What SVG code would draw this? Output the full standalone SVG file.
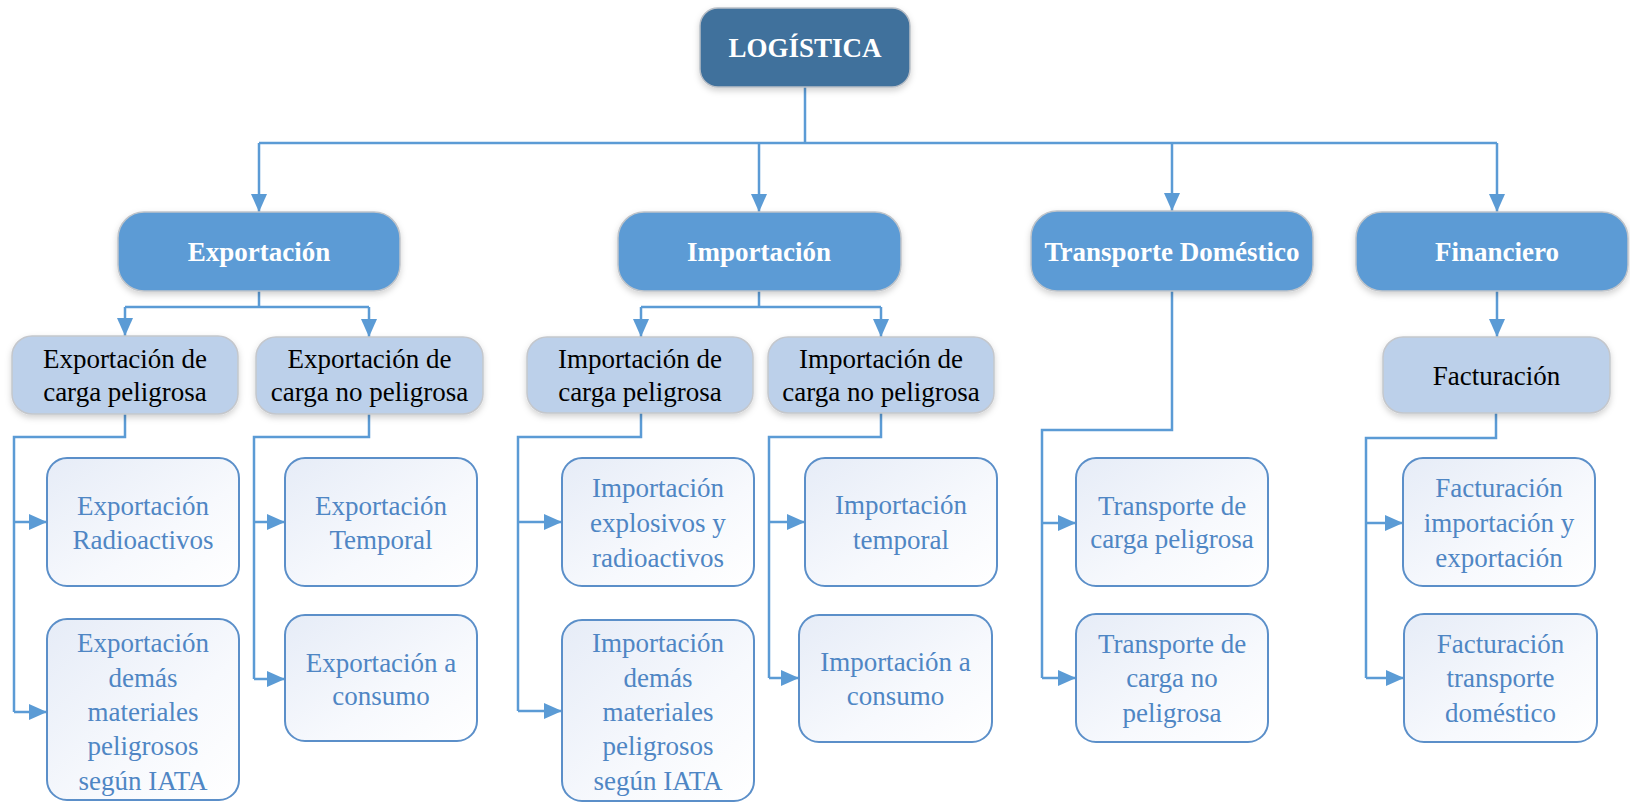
<svg xmlns="http://www.w3.org/2000/svg" width="1630" height="803" viewBox="0 0 1630 803">
<defs>
<linearGradient id="g3" x1="0" y1="0" x2="1" y2="1">
<stop offset="0" stop-color="#E6ECF7"/>
<stop offset="0.6" stop-color="#F7F9FD"/>
<stop offset="1" stop-color="#FFFFFF"/>
</linearGradient>
<filter id="sh" x="-10%" y="-10%" width="120%" height="130%">
<feDropShadow dx="0" dy="3" stdDeviation="3" flood-color="#000" flood-opacity="0.18"/>
</filter>
<marker id="ah" markerUnits="userSpaceOnUse" markerWidth="18" markerHeight="16" viewBox="0 0 18 16" refX="18" refY="8" orient="auto">
<path d="M0,0 L18,8 L0,16 Z" fill="#5B9BD5"/>
</marker>
</defs>
<style>
.t{font-family:"Liberation Serif","Times New Roman",serif;text-anchor:middle}
.l0{fill:#41719C;stroke:#B8BEC6;stroke-width:1.5;filter:url(#sh)}
.l1{fill:#5B9BD5;stroke:#BFC4CA;stroke-width:1.5;filter:url(#sh)}
.l2{fill:#BCD0EA;stroke:#C4C7CC;stroke-width:1.5;filter:url(#sh)}
.l3{fill:url(#g3);stroke:#5B8FC9;stroke-width:2}
.tb{font-size:27px;font-weight:bold;fill:#FFFFFF}
.t2{font-size:27px;fill:#000000}
.t3{font-size:27px;fill:#4F86C4}
.c{fill:none;stroke:#5B9BD5;stroke-width:2.5}
.a{marker-end:url(#ah)}
</style>
<g id="connectors">
<path class="c" d="M805,87 V143 M259,143 H1497"/>
<path class="c a" d="M259,143 V212"/>
<path class="c a" d="M759,143 V212"/>
<path class="c a" d="M1172,143 V211"/>
<path class="c a" d="M1497,143 V212"/>
<path class="c" d="M259,291 V307 M125,307 H369"/>
<path class="c a" d="M125,307 V336"/>
<path class="c a" d="M369,307 V337"/>
<path class="c" d="M759,291 V307 M641,307 H881"/>
<path class="c a" d="M641,307 V337"/>
<path class="c a" d="M881,307 V337"/>
<path class="c a" d="M1497,291 V337"/>
<path class="c" d="M125,414 V437 H14 V712"/>
<path class="c a" d="M14,522 H47"/>
<path class="c a" d="M14,712 H47"/>
<path class="c" d="M369,414 V437 H254 V679"/>
<path class="c a" d="M254,522 H285"/>
<path class="c a" d="M254,679 H285"/>
<path class="c" d="M641,413 V437 H518 V711"/>
<path class="c a" d="M518,522 H562"/>
<path class="c a" d="M518,711 H562"/>
<path class="c" d="M881,413 V437 H769 V678"/>
<path class="c a" d="M769,522 H805"/>
<path class="c a" d="M769,678 H799"/>
<path class="c" d="M1172,291 V430 H1042 V678"/>
<path class="c a" d="M1042,523 H1076"/>
<path class="c a" d="M1042,678 H1076"/>
<path class="c" d="M1496,413 V438 H1366 V678"/>
<path class="c a" d="M1366,523 H1403"/>
<path class="c a" d="M1366,678 H1404"/>
</g>
<g id="logistica"><rect class="l0" x="700" y="8" width="210" height="79" rx="18"/><text class="t tb" x="805" y="57">LOGÍSTICA</text></g>
<g id="exportacion"><rect class="l1" x="118" y="212" width="282" height="79" rx="26"/><text class="t tb" x="259" y="261">Exportación</text></g>
<g id="importacion"><rect class="l1" x="618" y="212" width="283" height="79" rx="26"/><text class="t tb" x="759" y="261">Importación</text></g>
<g id="transporte"><rect class="l1" x="1031" y="211" width="282" height="80" rx="26"/><text class="t tb" x="1172" y="261">Transporte Doméstico</text></g>
<g id="financiero"><rect class="l1" x="1356" y="212" width="272" height="79" rx="26"/><text class="t tb" x="1497" y="261">Financiero</text></g>
<g id="exp-pel"><rect class="l2" x="12" y="336" width="226" height="78" rx="20"/><text class="t t2" x="125" y="368">Exportación de</text><text class="t t2" x="125" y="401">carga peligrosa</text></g>
<g id="exp-nopel"><rect class="l2" x="256" y="337" width="227" height="77" rx="20"/><text class="t t2" x="369.5" y="368">Exportación de</text><text class="t t2" x="369.5" y="401">carga no peligrosa</text></g>
<g id="imp-pel"><rect class="l2" x="527" y="337" width="226" height="76" rx="20"/><text class="t t2" x="640" y="368">Importación de</text><text class="t t2" x="640" y="401">carga peligrosa</text></g>
<g id="imp-nopel"><rect class="l2" x="768" y="337" width="226" height="76" rx="20"/><text class="t t2" x="881" y="368">Importación de</text><text class="t t2" x="881" y="401">carga no peligrosa</text></g>
<g id="facturacion"><rect class="l2" x="1383" y="337" width="227" height="76" rx="20"/><text class="t t2" x="1496.5" y="385">Facturación</text></g>
<g id="exp-radio"><rect class="l3" x="47" y="458" width="192" height="128" rx="20"/><text class="t t3" x="143" y="515">Exportación</text><text class="t t3" x="143" y="549">Radioactivos</text></g>
<g id="exp-demas"><rect class="l3" x="47" y="619" width="192" height="181" rx="20"/><text class="t t3" x="143" y="652">Exportación</text><text class="t t3" x="143" y="687">demás</text><text class="t t3" x="143" y="721">materiales</text><text class="t t3" x="143" y="755">peligrosos</text><text class="t t3" x="143" y="790">según IATA</text></g>
<g id="exp-temporal"><rect class="l3" x="285" y="458" width="192" height="128" rx="20"/><text class="t t3" x="381" y="515">Exportación</text><text class="t t3" x="381" y="549">Temporal</text></g>
<g id="exp-consumo"><rect class="l3" x="285" y="615" width="192" height="126" rx="20"/><text class="t t3" x="381" y="672">Exportación a</text><text class="t t3" x="381" y="705">consumo</text></g>
<g id="imp-explosivos"><rect class="l3" x="562" y="458" width="192" height="128" rx="20"/><text class="t t3" x="658" y="497">Importación</text><text class="t t3" x="658" y="532">explosivos y</text><text class="t t3" x="658" y="567">radioactivos</text></g>
<g id="imp-demas"><rect class="l3" x="562" y="620" width="192" height="181" rx="20"/><text class="t t3" x="658" y="652">Importación</text><text class="t t3" x="658" y="687">demás</text><text class="t t3" x="658" y="721">materiales</text><text class="t t3" x="658" y="755">peligrosos</text><text class="t t3" x="658" y="790">según IATA</text></g>
<g id="imp-temporal"><rect class="l3" x="805" y="458" width="192" height="128" rx="20"/><text class="t t3" x="901" y="514">Importación</text><text class="t t3" x="901" y="549">temporal</text></g>
<g id="imp-consumo"><rect class="l3" x="799" y="615" width="193" height="127" rx="20"/><text class="t t3" x="895.5" y="671">Importación a</text><text class="t t3" x="895.5" y="705">consumo</text></g>
<g id="trans-pel"><rect class="l3" x="1076" y="458" width="192" height="128" rx="20"/><text class="t t3" x="1172" y="515">Transporte de</text><text class="t t3" x="1172" y="548">carga peligrosa</text></g>
<g id="trans-nopel"><rect class="l3" x="1076" y="614" width="192" height="128" rx="20"/><text class="t t3" x="1172" y="653">Transporte de</text><text class="t t3" x="1172" y="687">carga no</text><text class="t t3" x="1172" y="722">peligrosa</text></g>
<g id="fact-impexp"><rect class="l3" x="1403" y="458" width="192" height="128" rx="20"/><text class="t t3" x="1499" y="497">Facturación</text><text class="t t3" x="1499" y="532">importación y</text><text class="t t3" x="1499" y="567">exportación</text></g>
<g id="fact-transp"><rect class="l3" x="1404" y="614" width="193" height="128" rx="20"/><text class="t t3" x="1500.5" y="653">Facturación</text><text class="t t3" x="1500.5" y="687">transporte</text><text class="t t3" x="1500.5" y="722">doméstico</text></g>
</svg>
